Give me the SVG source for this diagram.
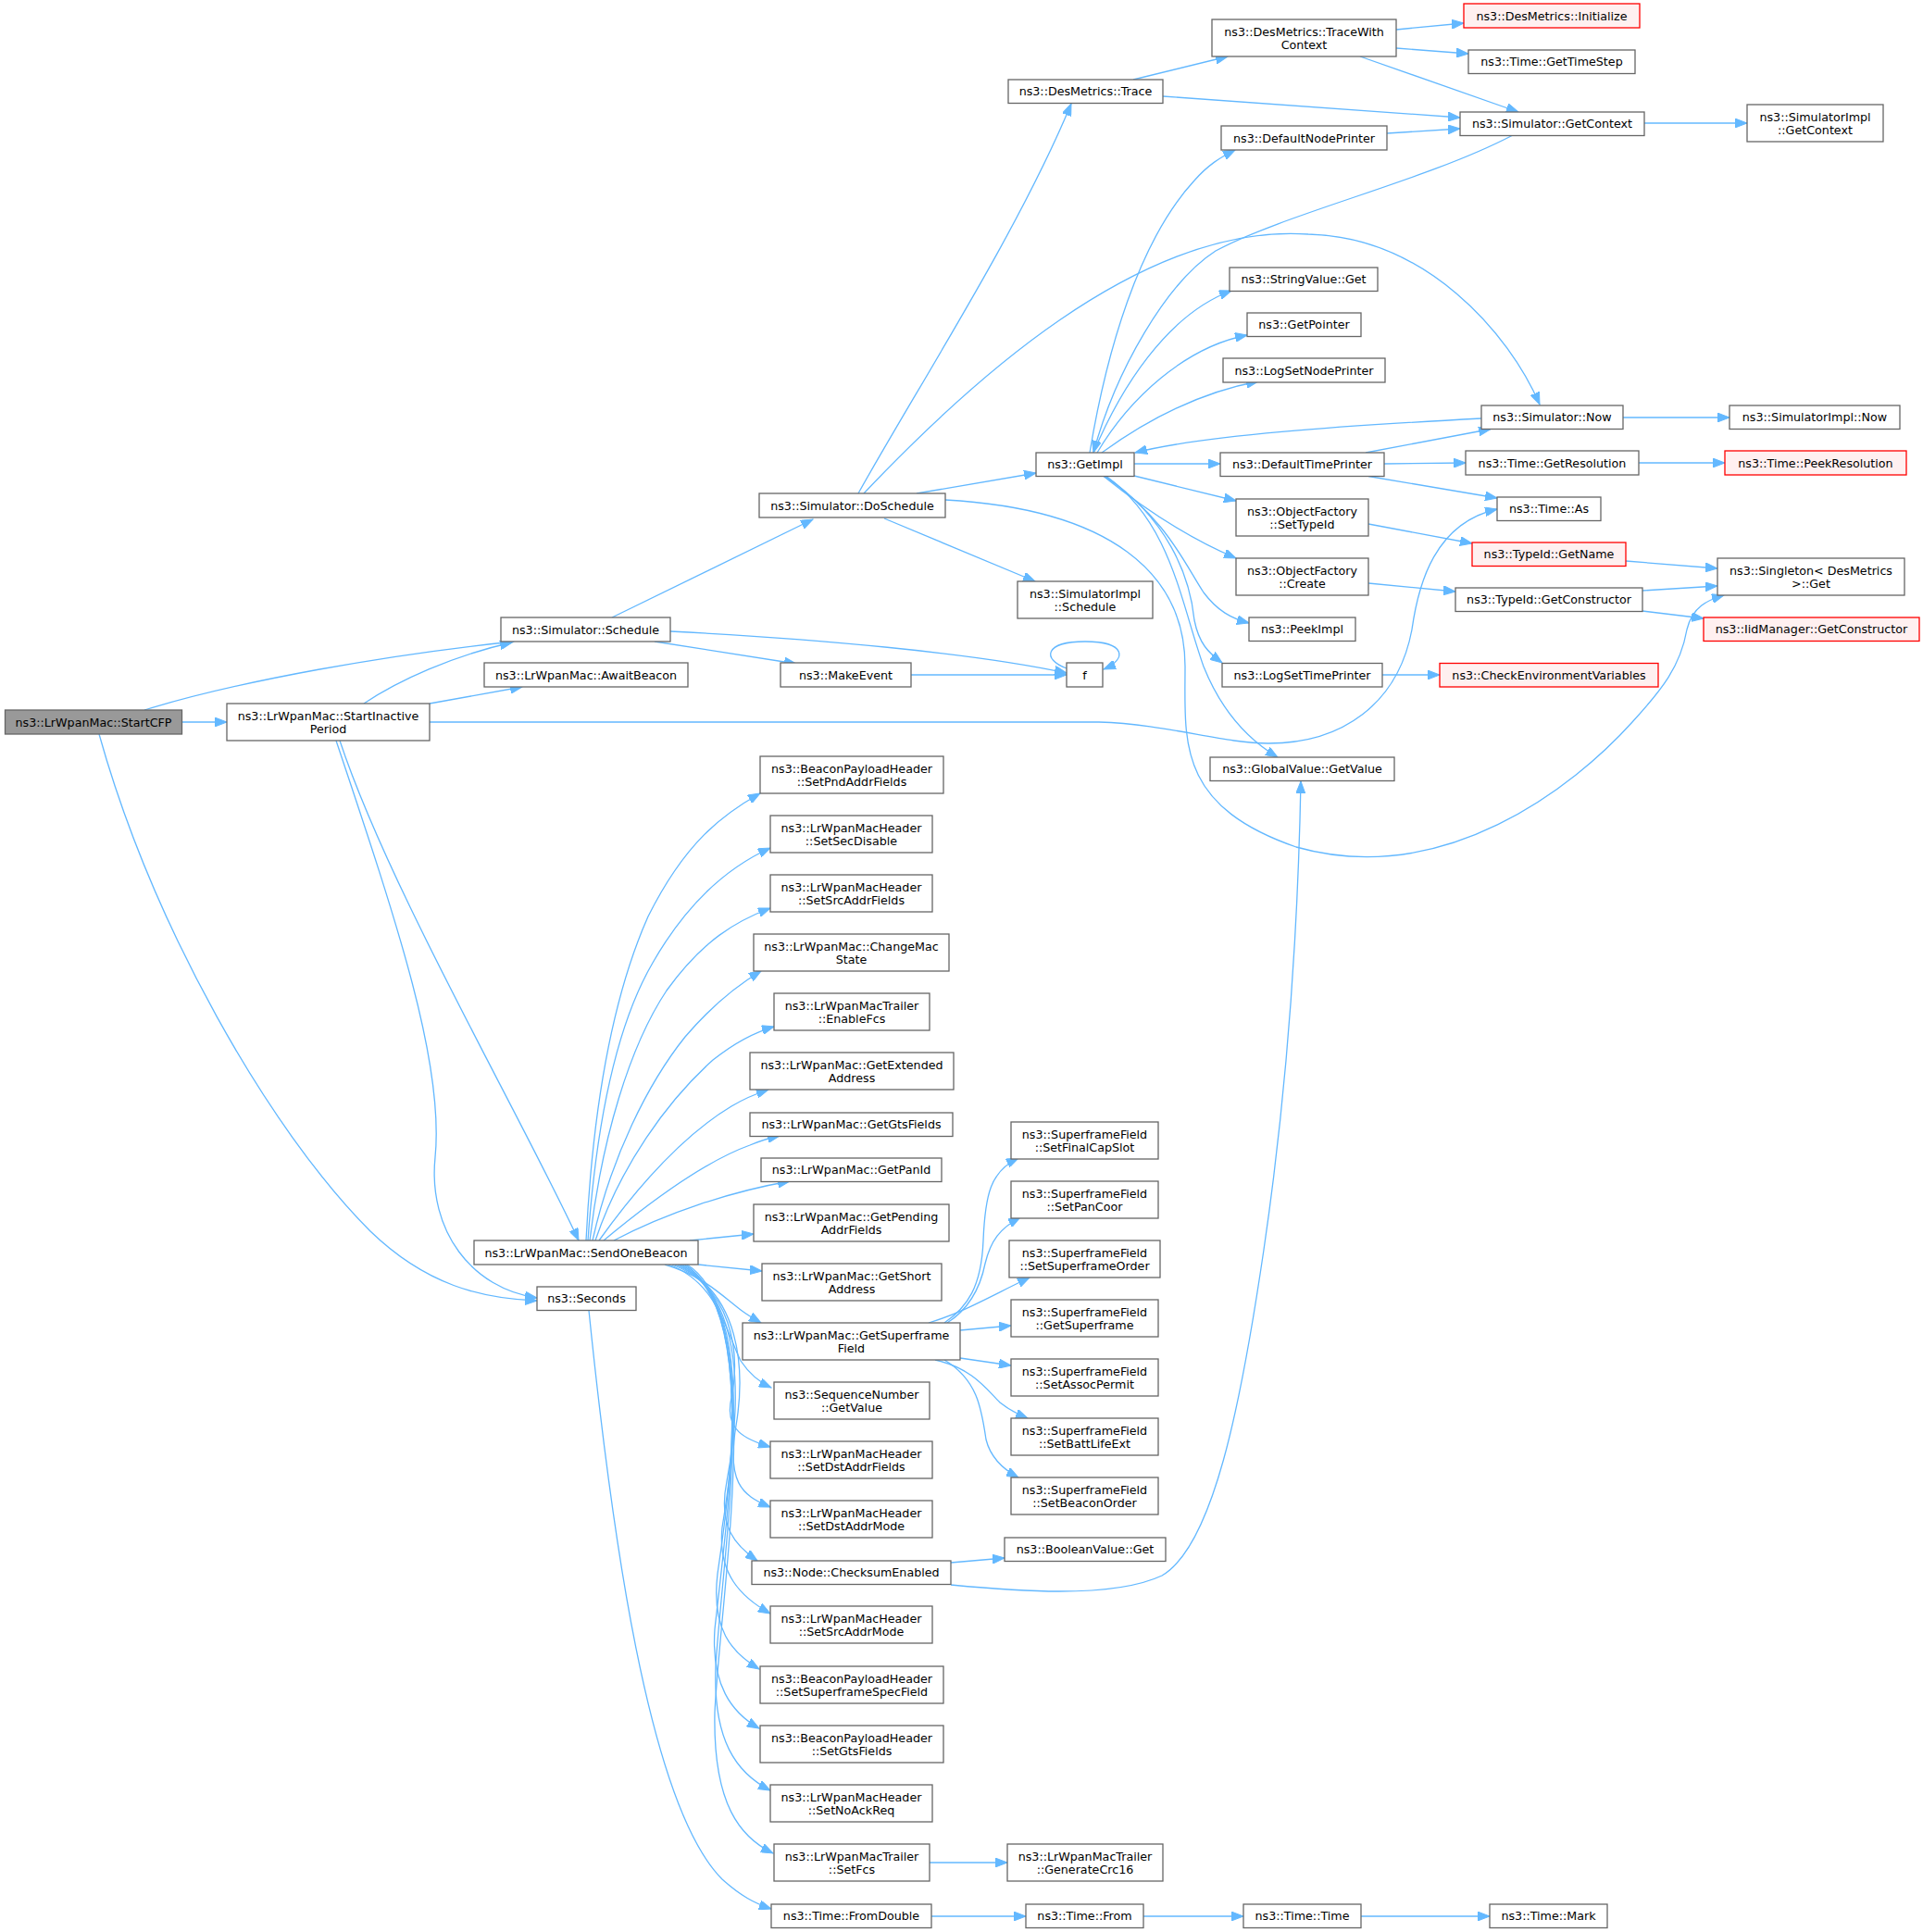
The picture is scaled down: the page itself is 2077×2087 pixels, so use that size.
<svg xmlns="http://www.w3.org/2000/svg" width="2077" height="2087" viewBox="0 0 2077 2087">
<defs>
<marker id="a" markerWidth="14" markerHeight="10" refX="13" refY="5" orient="auto" markerUnits="userSpaceOnUse"><path d="M0,0 L13,5 L0,10 z" fill="#63b8ff" stroke="#63b8ff" stroke-width="1"/></marker>
</defs>
<style>
rect{fill:#fff;stroke:#666;stroke-width:1.3}
rect.r{fill:#fff0f0;stroke:#f00}
rect.g{fill:#999}
text{font-family:"DejaVu Sans","Liberation Sans",sans-serif;font-size:12.7px;text-anchor:middle;fill:#000}
#edges path{fill:none;stroke:#63b8ff;stroke-width:1.3;marker-end:url(#a)}
</style>
<rect x="0" y="0" width="2077" height="2087" style="fill:#fff;stroke:none"/>
<g id="edges">
<path d="M196.5,780 L245,780"/>
<path d="M156,767 C260,735 420,707 555,693"/>
<path d="M393,760 C430,735 490,708 553,694"/>
<path d="M464,760 L564,742"/>
<path d="M464,780 L1187,780 C1260,782 1320,803 1370,803 C1450,803 1510,760 1525,680 C1532,630 1550,565 1617,550"/>
<path d="M367,800 C420,960 560,1200 625,1340"/>
<path d="M363,800 C430,1000 480,1150 470,1250 C462,1330 510,1392 580,1402"/>
<path d="M107,793 C165,1000 290,1220 400,1330 C460,1388 520,1403 580,1405"/>
<path d="M661,667 L878,561"/>
<path d="M707,693 L860,717"/>
<path d="M724,682 C880,690 1050,705 1152,727"/>
<path d="M984,729 L1152,729"/>
<path d="M1152,722 C1125,712 1128,693 1172,693 C1216,693 1218,712 1192,723"/>
<path d="M927,533 C990,420 1100,250 1157,112"/>
<path d="M990,533 L1119,511"/>
<path d="M955,560 L1118,628"/>
<path d="M933,533 C1040,420 1230,240 1413,253 C1540,256 1630,360 1663,437"/>
<path d="M1021,540 C1200,550 1280,620 1280,720 C1280,800 1270,870 1400,915 C1560,960 1700,850 1763,780 C1795,745 1815,720 1822,680 C1828,655 1845,648 1862,643"/>
<path d="M1224,86 L1326,61"/>
<path d="M1256,104 L1577,127"/>
<path d="M1508,32 L1581,25"/>
<path d="M1508,52 L1586,58"/>
<path d="M1469,61 L1640,121"/>
<path d="M1498,144 L1577,139"/>
<path d="M1776,133 L1887,133"/>
<path d="M1633,146.5 C1540,195 1390,230 1313,271 C1260,305 1205,400 1181,489"/>
<path d="M1177,489 C1195,380 1230,260 1290,195 C1305,178 1318,170 1334,162"/>
<path d="M1181,489 C1210,420 1260,340 1330,314"/>
<path d="M1185,489 C1220,430 1280,375 1347,362"/>
<path d="M1190,489 C1230,460 1290,425 1359,412"/>
<path d="M1600,452 C1450,460 1300,470 1226,489"/>
<path d="M1225,501 L1318,501"/>
<path d="M1225,514 L1335,541"/>
<path d="M1192,514.5 C1230,545 1280,580 1335,603"/>
<path d="M1193,514.5 C1260,560 1280,610 1300,640 C1315,660 1330,668 1349,673"/>
<path d="M1194,514.5 C1260,560 1285,620 1290,670 C1295,695 1305,705 1320,716"/>
<path d="M1195,514.5 C1265,565 1275,650 1300,720 C1320,770 1350,800 1380,818"/>
<path d="M1475,489 L1610,463.5"/>
<path d="M1495,501 L1583,500"/>
<path d="M1478,514.5 L1617,538"/>
<path d="M1770,500 L1863,500"/>
<path d="M1753,451 L1868,451"/>
<path d="M1478,566 L1590,587"/>
<path d="M1478,630 L1572,639"/>
<path d="M1756,606 L1855,614"/>
<path d="M1774,638 L1855,633"/>
<path d="M1774,660 L1840,668"/>
<path d="M1493,729 L1555,729"/>
<path d="M633,1340 C640,1200 660,1080 700,990 C740,910 780,880 821,857"/>
<path d="M635,1340 C645,1200 670,1100 705,1040 C745,970 790,935 832,916"/>
<path d="M637,1340 C650,1230 680,1130 720,1070 C760,1015 795,995 832,981"/>
<path d="M640,1340 C660,1250 700,1170 740,1120 C770,1085 795,1065 822,1049"/>
<path d="M643,1340 C670,1260 720,1190 770,1145 C795,1125 815,1115 836,1109"/>
<path d="M647,1340 C690,1280 740,1225 790,1195 C805,1186 818,1181 830,1177"/>
<path d="M652,1340 C700,1300 760,1255 810,1237 C822,1232 832,1229 842,1227"/>
<path d="M663,1340 C720,1310 790,1287 853,1276"/>
<path d="M745,1340 L814,1333"/>
<path d="M754,1366 L823,1373"/>
<path d="M718,1366 C760,1378 780,1400 800,1415 C808,1421 815,1425 822,1429"/>
<path d="M722,1366 C775,1385 785,1440 800,1470 C810,1485 820,1493 833,1499"/>
<path d="M726,1366 C790,1390 800,1460 790,1510 C782,1545 805,1555 832,1563"/>
<path d="M729,1366 C800,1395 805,1480 795,1540 C785,1600 800,1615 832,1628"/>
<path d="M732,1366 C805,1400 800,1520 785,1600 C775,1650 795,1670 818,1686"/>
<path d="M734,1366 C810,1400 795,1560 780,1650 C775,1700 800,1725 832,1743"/>
<path d="M736,1366 C815,1410 790,1600 775,1700 C768,1760 790,1785 820,1803"/>
<path d="M738,1366 C820,1410 785,1640 772,1760 C768,1820 790,1850 820,1867"/>
<path d="M740,1366 C825,1420 780,1680 773,1800 C770,1880 795,1915 832,1934"/>
<path d="M742,1366 C830,1420 778,1720 772,1850 C770,1950 800,1985 835,2002"/>
<path d="M636,1415.5 C660,1650 700,1950 780,2030 C800,2048 815,2056 833,2062"/>
<path d="M1020,1429 C1045,1412 1060,1390 1062,1340 C1064,1290 1070,1265 1100,1251"/>
<path d="M1023,1429 C1045,1415 1058,1395 1064,1365 C1070,1340 1080,1327 1102,1315"/>
<path d="M1003,1429 C1040,1418 1070,1400 1112,1380"/>
<path d="M1037,1437 L1092,1432"/>
<path d="M1037,1467 L1092,1475"/>
<path d="M1010,1469 C1050,1478 1065,1500 1080,1515 C1090,1523 1100,1528 1110,1532"/>
<path d="M1020,1469 C1055,1490 1060,1520 1065,1555 C1070,1575 1085,1588 1100,1596"/>
<path d="M1027,1688 L1085,1683"/>
<path d="M1027,1712 C1090,1718 1200,1728 1255,1702 C1310,1670 1340,1520 1365,1350 C1390,1180 1402,1000 1405,844"/>
<path d="M1004,2012 L1088,2012"/>
<path d="M1006,2070 L1108,2070"/>
<path d="M1235,2070 L1343,2070"/>
<path d="M1470,2070 L1609,2070"/>
</g>
<g id="n_startcfp"><rect class="g" x="5.5" y="767" width="191" height="26"/><text x="101" y="784.6">ns3::LrWpanMac::StartCFP</text></g>
<g id="n_startinactive"><rect x="245" y="760" width="219" height="40"/><text x="354.5" y="777.5">ns3::LrWpanMac::StartInactive</text><text x="354.5" y="792">Period</text></g>
<g id="n_schedule"><rect x="541" y="667" width="183" height="26"/><text x="632.5" y="684.6">ns3::Simulator::Schedule</text></g>
<g id="n_awaitbeacon"><rect x="523" y="716" width="220" height="26"/><text x="633" y="733.6">ns3::LrWpanMac::AwaitBeacon</text></g>
<g id="n_sendonebeacon"><rect x="512" y="1340" width="242" height="26"/><text x="633" y="1357.6">ns3::LrWpanMac::SendOneBeacon</text></g>
<g id="n_seconds"><rect x="580" y="1390" width="107" height="25.5"/><text x="633.5" y="1407.4">ns3::Seconds</text></g>
<g id="n_doschedule"><rect x="820" y="533" width="201" height="26"/><text x="920.5" y="550.6">ns3::Simulator::DoSchedule</text></g>
<g id="n_makeevent"><rect x="843" y="716" width="141" height="26"/><text x="913.5" y="733.6">ns3::MakeEvent</text></g>
<g id="n_f"><rect x="1152" y="716" width="39" height="26"/><text x="1171.5" y="733.6">f</text></g>
<g id="n_simimplschedule"><rect x="1099" y="628" width="146" height="40"/><text x="1172" y="645.5">ns3::SimulatorImpl</text><text x="1172" y="660">::Schedule</text></g>
<g id="n_getimpl"><rect x="1119" y="489" width="106" height="25.5"/><text x="1172" y="506.4">ns3::GetImpl</text></g>
<g id="n_trace"><rect x="1089" y="86" width="167" height="25.5"/><text x="1172.5" y="103.4">ns3::DesMetrics::Trace</text></g>
<g id="n_tracewithcontext"><rect x="1309" y="21" width="199" height="40"/><text x="1408.5" y="38.5">ns3::DesMetrics::TraceWith</text><text x="1408.5" y="53">Context</text></g>
<g id="n_defaultnodeprinter"><rect x="1319" y="136" width="179" height="26"/><text x="1408.5" y="153.6">ns3::DefaultNodePrinter</text></g>
<g id="n_stringvalueget"><rect x="1328" y="289" width="160" height="25.5"/><text x="1408" y="306.4">ns3::StringValue::Get</text></g>
<g id="n_getpointer"><rect x="1347" y="338" width="123" height="25.5"/><text x="1408.5" y="355.4">ns3::GetPointer</text></g>
<g id="n_logsetnodeprinter"><rect x="1321" y="387" width="175" height="26"/><text x="1408.5" y="404.6">ns3::LogSetNodePrinter</text></g>
<g id="n_defaulttimeprinter"><rect x="1318" y="489" width="177" height="25.5"/><text x="1406.5" y="506.4">ns3::DefaultTimePrinter</text></g>
<g id="n_settypeid"><rect x="1335" y="539" width="143" height="40"/><text x="1406.5" y="556.5">ns3::ObjectFactory</text><text x="1406.5" y="571">::SetTypeId</text></g>
<g id="n_create"><rect x="1335" y="603" width="143" height="40"/><text x="1406.5" y="620.5">ns3::ObjectFactory</text><text x="1406.5" y="635">::Create</text></g>
<g id="n_peekimpl"><rect x="1349" y="667" width="115" height="25.5"/><text x="1406.5" y="684.4">ns3::PeekImpl</text></g>
<g id="n_logsettimeprinter"><rect x="1320" y="716.5" width="173" height="25.5"/><text x="1406.5" y="733.9">ns3::LogSetTimePrinter</text></g>
<g id="n_globalvaluegetvalue"><rect x="1307" y="818" width="199" height="25.5"/><text x="1406.5" y="835.4">ns3::GlobalValue::GetValue</text></g>
<g id="n_initialize"><rect class="r" x="1581" y="4" width="190" height="26"/><text x="1676" y="21.6">ns3::DesMetrics::Initialize</text></g>
<g id="n_gettimestep"><rect x="1586" y="54" width="180" height="25.5"/><text x="1676" y="71.4">ns3::Time::GetTimeStep</text></g>
<g id="n_simgetcontext"><rect x="1577" y="121" width="199" height="25.5"/><text x="1676.5" y="138.4">ns3::Simulator::GetContext</text></g>
<g id="n_simnow"><rect x="1600" y="438" width="153" height="25.5"/><text x="1676.5" y="455.4">ns3::Simulator::Now</text></g>
<g id="n_getresolution"><rect x="1583" y="487" width="187" height="26"/><text x="1676.5" y="504.6">ns3::Time::GetResolution</text></g>
<g id="n_timeas"><rect x="1617" y="537" width="112" height="25.5"/><text x="1673" y="554.4">ns3::Time::As</text></g>
<g id="n_typeidgetname"><rect class="r" x="1590" y="586" width="166" height="25.5"/><text x="1673" y="603.4">ns3::TypeId::GetName</text></g>
<g id="n_typeidgetconstructor"><rect x="1572" y="635" width="202" height="25.5"/><text x="1673" y="652.4">ns3::TypeId::GetConstructor</text></g>
<g id="n_checkenv"><rect class="r" x="1555" y="716.5" width="236" height="25.5"/><text x="1673" y="733.9">ns3::CheckEnvironmentVariables</text></g>
<g id="n_simimplgetcontext"><rect x="1887" y="113" width="147" height="40"/><text x="1960.5" y="130.5">ns3::SimulatorImpl</text><text x="1960.5" y="145">::GetContext</text></g>
<g id="n_simimplnow"><rect x="1868" y="438" width="184" height="25.5"/><text x="1960" y="455.4">ns3::SimulatorImpl::Now</text></g>
<g id="n_peekresolution"><rect class="r" x="1863" y="487" width="196" height="26"/><text x="1961" y="504.6">ns3::Time::PeekResolution</text></g>
<g id="n_singletonget"><rect x="1855" y="603" width="202" height="40"/><text x="1956" y="620.5">ns3::Singleton&lt; DesMetrics</text><text x="1956" y="635"> &gt;::Get</text></g>
<g id="n_iidmanager"><rect class="r" x="1840" y="667" width="233" height="25.5"/><text x="1956.5" y="684.4">ns3::IidManager::GetConstructor</text></g>
<g id="n_setpnd"><rect x="821" y="817" width="198" height="40"/><text x="920" y="834.5">ns3::BeaconPayloadHeader</text><text x="920" y="849">::SetPndAddrFields</text></g>
<g id="n_setsecdisable"><rect x="832" y="881" width="175" height="40"/><text x="919.5" y="898.5">ns3::LrWpanMacHeader</text><text x="919.5" y="913">::SetSecDisable</text></g>
<g id="n_setsrcaddrfields"><rect x="832" y="945" width="175" height="40"/><text x="919.5" y="962.5">ns3::LrWpanMacHeader</text><text x="919.5" y="977">::SetSrcAddrFields</text></g>
<g id="n_changemacstate"><rect x="814" y="1009" width="211" height="40"/><text x="919.5" y="1026.5">ns3::LrWpanMac::ChangeMac</text><text x="919.5" y="1041">State</text></g>
<g id="n_enablefcs"><rect x="836" y="1073" width="168" height="40"/><text x="920" y="1090.5">ns3::LrWpanMacTrailer</text><text x="920" y="1105">::EnableFcs</text></g>
<g id="n_getextended"><rect x="810" y="1137" width="220" height="40"/><text x="920" y="1154.5">ns3::LrWpanMac::GetExtended</text><text x="920" y="1169">Address</text></g>
<g id="n_getgtsfields"><rect x="810" y="1202" width="219" height="25.5"/><text x="919.5" y="1219.4">ns3::LrWpanMac::GetGtsFields</text></g>
<g id="n_getpanid"><rect x="822" y="1251" width="195" height="25.5"/><text x="919.5" y="1268.4">ns3::LrWpanMac::GetPanId</text></g>
<g id="n_getpending"><rect x="814" y="1301" width="211" height="40"/><text x="919.5" y="1318.5">ns3::LrWpanMac::GetPending</text><text x="919.5" y="1333">AddrFields</text></g>
<g id="n_getshort"><rect x="823" y="1365" width="194" height="40"/><text x="920" y="1382.5">ns3::LrWpanMac::GetShort</text><text x="920" y="1397">Address</text></g>
<g id="n_getsuperframefield"><rect x="802" y="1429" width="235" height="40"/><text x="919.5" y="1446.5">ns3::LrWpanMac::GetSuperframe</text><text x="919.5" y="1461">Field</text></g>
<g id="n_seqnumgetvalue"><rect x="836" y="1493" width="168" height="40"/><text x="920" y="1510.5">ns3::SequenceNumber</text><text x="920" y="1525">::GetValue</text></g>
<g id="n_setdstaddrfields"><rect x="832" y="1557" width="175" height="40"/><text x="919.5" y="1574.5">ns3::LrWpanMacHeader</text><text x="919.5" y="1589">::SetDstAddrFields</text></g>
<g id="n_setdstaddrmode"><rect x="832" y="1621" width="175" height="40"/><text x="919.5" y="1638.5">ns3::LrWpanMacHeader</text><text x="919.5" y="1653">::SetDstAddrMode</text></g>
<g id="n_checksumenabled"><rect x="812" y="1686" width="215" height="25.5"/><text x="919.5" y="1703.4">ns3::Node::ChecksumEnabled</text></g>
<g id="n_setsrcaddrmode"><rect x="832" y="1735" width="175" height="40"/><text x="919.5" y="1752.5">ns3::LrWpanMacHeader</text><text x="919.5" y="1767">::SetSrcAddrMode</text></g>
<g id="n_setsuperframespec"><rect x="821" y="1800" width="198" height="40"/><text x="920" y="1817.5">ns3::BeaconPayloadHeader</text><text x="920" y="1832">::SetSuperframeSpecField</text></g>
<g id="n_setgtsfields"><rect x="821" y="1864" width="198" height="40"/><text x="920" y="1881.5">ns3::BeaconPayloadHeader</text><text x="920" y="1896">::SetGtsFields</text></g>
<g id="n_setnoackreq"><rect x="832" y="1928" width="175" height="40"/><text x="919.5" y="1945.5">ns3::LrWpanMacHeader</text><text x="919.5" y="1960">::SetNoAckReq</text></g>
<g id="n_setfcs"><rect x="836" y="1992" width="168" height="40"/><text x="920" y="2009.5">ns3::LrWpanMacTrailer</text><text x="920" y="2024">::SetFcs</text></g>
<g id="n_fromdouble"><rect x="833" y="2057" width="173" height="25.5"/><text x="919.5" y="2074.4">ns3::Time::FromDouble</text></g>
<g id="n_setfinalcapslot"><rect x="1092" y="1212" width="159" height="40"/><text x="1171.5" y="1229.5">ns3::SuperframeField</text><text x="1171.5" y="1244">::SetFinalCapSlot</text></g>
<g id="n_setpancoor"><rect x="1092" y="1276" width="159" height="40"/><text x="1171.5" y="1293.5">ns3::SuperframeField</text><text x="1171.5" y="1308">::SetPanCoor</text></g>
<g id="n_setsuperframeorder"><rect x="1090" y="1340" width="163" height="40"/><text x="1171.5" y="1357.5">ns3::SuperframeField</text><text x="1171.5" y="1372">::SetSuperframeOrder</text></g>
<g id="n_getsuperframe"><rect x="1092" y="1404" width="159" height="40"/><text x="1171.5" y="1421.5">ns3::SuperframeField</text><text x="1171.5" y="1436">::GetSuperframe</text></g>
<g id="n_setassocpermit"><rect x="1092" y="1468" width="159" height="40"/><text x="1171.5" y="1485.5">ns3::SuperframeField</text><text x="1171.5" y="1500">::SetAssocPermit</text></g>
<g id="n_setbattlifeext"><rect x="1092" y="1532" width="159" height="40"/><text x="1171.5" y="1549.5">ns3::SuperframeField</text><text x="1171.5" y="1564">::SetBattLifeExt</text></g>
<g id="n_setbeaconorder"><rect x="1092" y="1596" width="159" height="40"/><text x="1171.5" y="1613.5">ns3::SuperframeField</text><text x="1171.5" y="1628">::SetBeaconOrder</text></g>
<g id="n_booleanvalueget"><rect x="1085" y="1661" width="174" height="25.5"/><text x="1172" y="1678.4">ns3::BooleanValue::Get</text></g>
<g id="n_generatecrc16"><rect x="1088" y="1992" width="168" height="40"/><text x="1172" y="2009.5">ns3::LrWpanMacTrailer</text><text x="1172" y="2024">::GenerateCrc16</text></g>
<g id="n_timefrom"><rect x="1108" y="2057" width="127" height="25.5"/><text x="1171.5" y="2074.4">ns3::Time::From</text></g>
<g id="n_timetime"><rect x="1343" y="2057" width="127" height="25.5"/><text x="1406.5" y="2074.4">ns3::Time::Time</text></g>
<g id="n_timemark"><rect x="1609" y="2057" width="127" height="25.5"/><text x="1672.5" y="2074.4">ns3::Time::Mark</text></g>
</svg>
